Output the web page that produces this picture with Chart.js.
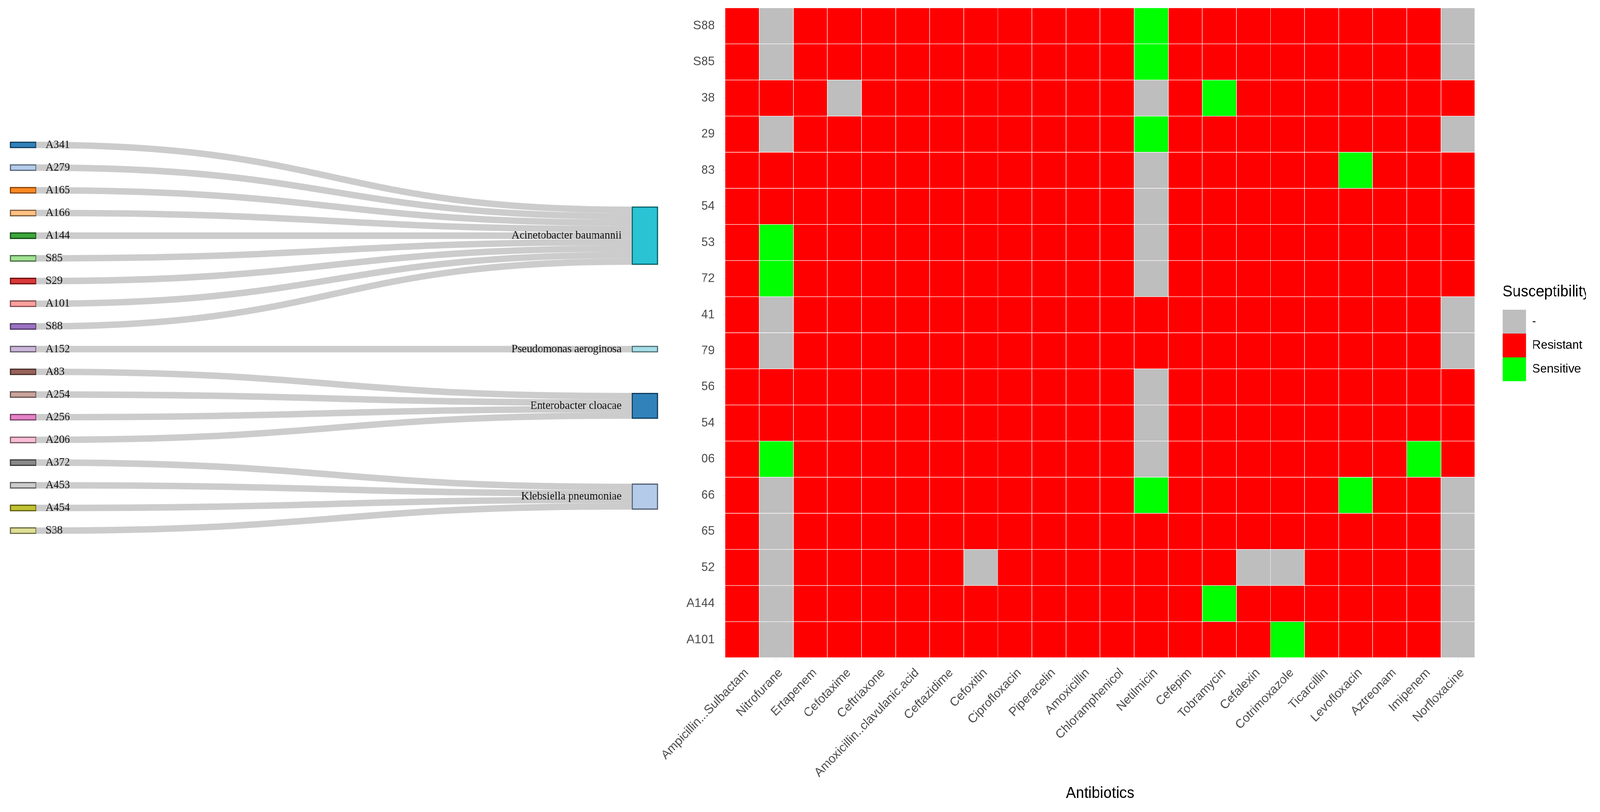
<!DOCTYPE html>
<html>
<head>
<meta charset="utf-8">
<script src="https://cdn.jsdelivr.net/npm/chart.js@4.4.1/dist/chart.umd.min.js"></script>
<style>
  html, body { margin: 0; padding: 0; background: #fff; overflow: hidden; }
  #lienzo { position: relative; width: 4254px; height: 2079px; transform-origin: 0 0; }
  canvas { position: absolute; left: 0; top: 0; }
</style>
</head>
<body>
<div id="lienzo">
  <canvas id="graficaSankey" width="4254" height="2079"></canvas>
  <canvas id="graficaMapa" width="4254" height="2079"></canvas>
</div>
<script>
// Aislados (izquierda) y especie a la que va cada uno (derecha)
var aislados = ['A341','A279','A165','A166','A144','S85','S29','A101','S88','A152','A83','A254','A256','A206','A372','A453','A454','S38'];
var especies = ['Acinetobacter baumannii','Pseudomonas aeroginosa','Enterobacter cloacae','Klebsiella pneumoniae'];
var especieDeAislado = [0,0,0,0,0,0,0,0,0,1,2,2,2,2,3,3,3,3];

// Mapa de susceptibilidad
var antibioticos = ['Ampicillin...Sulbactam','Nitrofurane','Ertapenem','Cefotaxime','Ceftriaxone','Amoxicillin..clavulanic.acid','Ceftazidime','Cefoxitin','Ciprofloxacin','Piperacelin','Amoxicillin','Chloramphenicol','Netilmicin','Cefepim','Tobramycin','Cefalexin','Cotrimoxazole','Ticarcillin','Levofloxacin','Aztreonam','Imipenem','Norfloxacine'];
var filas = ['S88','S85','38','29','83','54','53','72','41','79','56','54','06','66','65','52','A144','A101'];
// R = Resistant, S = Sensitive, - = sin dato (11 antibioticos + 11 antibioticos)
var resultados = [
  'R-RRRRRRRRR RSRRRRRRRR-', // S88
  'R-RRRRRRRRR RSRRRRRRRR-', // S85
  'RRR-RRRRRRR R-RSRRRRRRR', // 38
  'R-RRRRRRRRR RSRRRRRRRR-', // 29
  'RRRRRRRRRRR R-RRRRRSRRR', // 83
  'RRRRRRRRRRR R-RRRRRRRRR', // 54
  'RSRRRRRRRRR R-RRRRRRRRR', // 53
  'RSRRRRRRRRR R-RRRRRRRRR', // 72
  'R-RRRRRRRRR RRRRRRRRRR-', // 41
  'R-RRRRRRRRR RRRRRRRRRR-', // 79
  'RRRRRRRRRRR R-RRRRRRRRR', // 56
  'RRRRRRRRRRR R-RRRRRRRRR', // 54
  'RSRRRRRRRRR R-RRRRRRRSR', // 06
  'R-RRRRRRRRR RSRRRRRSRR-', // 66
  'R-RRRRRRRRR RRRRRRRRRR-', // 65
  'R-RRRRR-RRR RRRR--RRRR-', // 52
  'R-RRRRRRRRR RRRSRRRRRR-', // A144
  'R-RRRRRRRRR RRRRRSRRRR-'  // A101
];
var estados = ['-', 'R', 'S'];
var nombresEstado = ['-', 'Resistant', 'Sensitive'];

// la figura se dibuja a 4254x2079 y se ajusta a la ventana real
var ancho = 4254, alto = 2079;
var vw = window.innerWidth || ancho, vh = window.innerHeight || alto;
document.getElementById('lienzo').style.transform = 'scale(' + (vw / ancho) + ',' + (vh / alto) + ')';

Chart.defaults.font.family = '"Liberation Sans", Arial, sans-serif';

// ---------- Sankey ----------
var flujo = 0.285;      // grosor de un flujo en unidades de fila
var anchoNodo = 70;
var paleta = ['#1f77b4','#aec7e8','#ff7f0e','#ffbb78','#2ca02c','#98df8a','#d62728','#ff9896','#9467bd','#c5b0d5',
              '#8c564b','#c49c94','#e377c2','#f7b6d2','#7f7f7f','#c7c7c7','#bcbd22','#dbdb8d','#17becf','#9edae5'];

function rgb(hex) {
  return [parseInt(hex.substr(1,2),16), parseInt(hex.substr(3,2),16), parseInt(hex.substr(5,2),16)];
}
function conAlfa(hex, a) {
  var c = rgb(hex);
  return 'rgba(' + c[0] + ',' + c[1] + ',' + c[2] + ',' + a + ')';
}
function oscurecer(hex) {
  var c = rgb(hex).map(function (v) { return Math.round(v * 0.49); });
  return 'rgb(' + c.join(',') + ')';
}

// cada especie se centra en la media de sus aislados
var miembros = especies.map(function (e, s) {
  return aislados.map(function (a, i) { return i; }).filter(function (i) { return especieDeAislado[i] === s; });
});
var centros = miembros.map(function (m) {
  return m.reduce(function (a, b) { return a + b; }, 0) / m.length;
});
var enlaces = aislados.map(function (a, i) {
  var s = especieDeAislado[i];
  var j = miembros[s].indexOf(i);
  return { desde: i, hasta: centros[s] - miembros[s].length * flujo / 2 + (j + 0.5) * flujo };
});
var nodos = aislados.map(function (a, i) {
  return { x: 0, y: [i - flujo / 2, i + flujo / 2] };
}).concat(especies.map(function (e, s) {
  var h = miembros[s].length * flujo / 2;
  return { x: 1, y: [centros[s] - h, centros[s] + h] };
}));
var nombresNodos = aislados.concat(especies);
var coloresNodos = nombresNodos.map(function (n, i) { return paleta[i % paleta.length]; });

var dibujoSankey = {
  id: 'dibujoSankey',
  beforeDatasetsDraw: function (chart) {
    var x = chart.scales.x, y = chart.scales.y, ctx = chart.ctx;
    var grosor = Math.abs(y.getPixelForValue(flujo) - y.getPixelForValue(0));
    var x0 = x.getPixelForValue(0) + anchoNodo / 2;
    var x1 = x.getPixelForValue(1) - anchoNodo / 2;
    var xm = (x0 + x1) / 2;
    ctx.save();
    ctx.strokeStyle = 'rgba(0,0,0,0.2)';
    ctx.lineWidth = grosor;
    enlaces.forEach(function (e) {
      var y0 = y.getPixelForValue(e.desde), y1 = y.getPixelForValue(e.hasta);
      ctx.beginPath();
      ctx.moveTo(x0, y0);
      ctx.bezierCurveTo(xm, y0, xm, y1, x1, y1);
      ctx.stroke();
    });
    ctx.restore();
  },
  afterDatasetsDraw: function (chart) {
    var x = chart.scales.x, y = chart.scales.y, ctx = chart.ctx;
    ctx.save();
    ctx.font = '29px "Liberation Serif", "Times New Roman", serif';
    ctx.fillStyle = '#111';
    ctx.textBaseline = 'middle';
    nodos.forEach(function (n, i) {
      var cy = y.getPixelForValue((n.y[0] + n.y[1]) / 2);
      if (n.x === 0) {
        ctx.textAlign = 'left';
        ctx.fillText(nombresNodos[i], x.getPixelForValue(0) + anchoNodo / 2 + 25, cy);
      } else {
        ctx.textAlign = 'right';
        ctx.fillText(nombresNodos[i], x.getPixelForValue(1) - anchoNodo / 2 - 27, cy);
      }
    });
    ctx.restore();
  }
};

new Chart(document.getElementById('graficaSankey').getContext('2d'), {
  type: 'bar',
  data: {
    datasets: [{
      data: nodos,
      backgroundColor: coloresNodos.map(function (c) { return conAlfa(c, 0.92); }),
      borderColor: coloresNodos.map(oscurecer),
      borderWidth: 3,
      borderSkipped: false,
      barThickness: anchoNodo
    }]
  },
  options: {
    responsive: false,
    devicePixelRatio: 1,
    animation: false,
    layout: { padding: 0 },
    scales: {
      x: { type: 'linear', display: false, offset: false, bounds: 'data', min: -0.0372, max: 2.5363 },
      y: { type: 'linear', display: false, reverse: true, bounds: 'data', min: -6.3855, max: 29.3976 }
    },
    plugins: { legend: { display: false }, tooltip: { enabled: false } }
  },
  plugins: [dibujoSankey]
});

// ---------- Mapa de calor ----------
var colorEstado = { '-': '#bebebe', 'R': '#ff0000', 'S': '#00ff00' };
var filasAbajo = filas.slice().reverse();
var codigosAbajo = resultados.map(function (r) { return r.replace(/ /g, '').split(''); }).reverse();

new Chart(document.getElementById('graficaMapa').getContext('2d'), {
  type: 'bar',
  data: {
    labels: antibioticos,
    datasets: filasAbajo.map(function (f, k) {
      return {
        label: f,
        data: antibioticos.map(function () { return 1; }),
        backgroundColor: codigosAbajo[k].map(function (c) { return colorEstado[c]; }),
        borderColor: 'rgba(255,255,255,0.5)',
        borderWidth: 1,
        borderSkipped: false,
        barPercentage: 1,
        categoryPercentage: 1
      };
    })
  },
  options: {
    responsive: false,
    devicePixelRatio: 1,
    animation: false,
    layout: { padding: { top: 20, left: 0, right: 37, bottom: 23 } },
    scales: {
      x: {
        stacked: true,
        offset: true,
        border: { display: false },
        grid: { offset: false, drawOnChartArea: false, tickLength: 8, color: '#e3e3e3' },
        ticks: { autoSkip: false, minRotation: 45, maxRotation: 45, padding: 12, labelOffset: 12,
                 color: '#4d4d4d', font: { size: 32 } },
        title: { display: true, text: 'Antibiotics', color: '#000', font: { size: 40 }, padding: 0 },
        afterFit: function (s) { s.height = 372; s.paddingLeft = 0; s.paddingRight = 0; }
      },
      y: {
        stacked: true,
        min: 0,
        max: filas.length,
        border: { display: false },
        grid: { drawOnChartArea: false, tickLength: 8, color: '#e3e3e3' },
        afterBuildTicks: function (s) {
          s.ticks = filasAbajo.map(function (f, i) { return { value: i + 0.5 }; });
        },
        ticks: { autoSkip: false, padding: 20, color: '#4d4d4d', font: { size: 32 },
                 callback: function (v) { return filasAbajo[Math.floor(v)]; } },
        afterFit: function (s) { s.width = 1928; s.paddingTop = 0; s.paddingBottom = 0; }
      },
      margen: {
        type: 'linear',
        position: 'right',
        grid: { display: false },
        border: { display: false },
        ticks: { display: false },
        afterFit: function (s) { s.width = 73; s.paddingTop = 0; s.paddingBottom = 0; }
      }
    },
    plugins: {
      tooltip: { enabled: false },
      legend: {
        display: true,
        position: 'right',
        align: 'center',
        fullSize: false,
        title: { display: true, text: 'Susceptibility', color: '#000', font: { size: 40 },
                 position: 'start', padding: { top: 0, bottom: 17 } },
        labels: {
          boxWidth: 63,
          boxHeight: 61,
          padding: 0,
          color: '#1a1a1a',
          font: { size: 32 },
          generateLabels: function () {
            return estados.map(function (e, i) {
              return { text: nombresEstado[i], fillStyle: colorEstado[e], strokeStyle: colorEstado[e],
                       lineWidth: 0, hidden: false, datasetIndex: i };
            });
          }
        }
      }
    }
  }
});
</script>
</body>
</html>
